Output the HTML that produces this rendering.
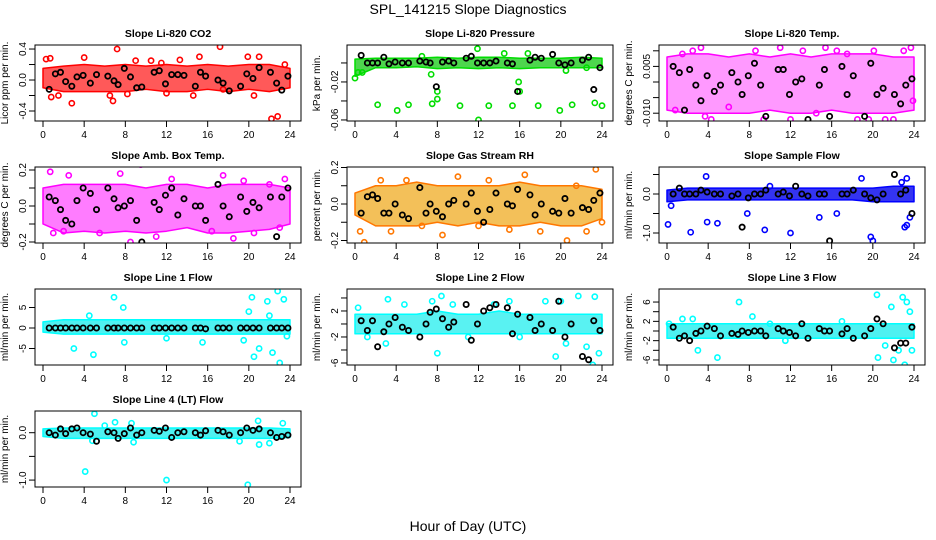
<!DOCTYPE html>
<html><head><meta charset="utf-8"><style>
html,body{margin:0;padding:0;background:#fff;}
svg{display:block;font-family:"Liberation Sans",sans-serif;}
</style></head><body>
<svg id="chart" width="936" height="540" viewBox="0 0 936 540" xmlns="http://www.w3.org/2000/svg">
<text x="468" y="14" text-anchor="middle" font-size="14">SPL_141215  Slope Diagnostics</text>
<text x="468" y="531" text-anchor="middle" font-size="14">Hour of Day (UTC)</text>
</svg>
<script>
const xTicks=[0,4,8,12,16,20,24];
const bandHours=[0,2,4,6,8,10,12,14,16,18,20,22,24];
const blackHours=[0.6,1.2,1.7,2.2,2.8,3.3,3.9,4.6,5.2,6.3,6.9,7.3,7.9,8.5,9.1,9.6,10.8,11.3,11.9,12.5,13.1,13.7,14.8,15.3,15.8,17.0,17.5,18.1,19.2,19.8,20.4,21.0,22.1,22.7,23.2,23.8];

const co2Hi=[0.15,0.18,0.2,0.18,0.2,0.18,0.2,0.18,0.2,0.18,0.2,0.2,0.15];
const co2Lo=[-0.1,-0.15,-0.15,-0.15,-0.15,-0.12,-0.15,-0.15,-0.12,-0.15,-0.12,-0.15,-0.1];
const co2Hours=[0.3,0.8,0.7,1.5,2.8,4.0,6.5,6.8,7.2,8.2,10.5,11.5,13.3,14.6,15.2,17.2,17.5,19.9,20.5,21.0,22.2,22.8,23.5,12.0,9.0];
const co2Vals=[0.27,-0.22,0.28,-0.2,-0.3,0.29,-0.2,-0.27,0.4,-0.18,0.25,0.22,0.26,-0.2,0.3,0.43,-0.12,0.3,-0.2,0.3,-0.5,-0.47,0.2,-0.17,0.25];
const co2Black=[-0.12,0.08,0.1,-0.02,-0.08,0.04,0.06,-0.04,0.07,0.05,-0.01,-0.06,0.15,0.04,-0.1,-0.09,0.1,0.12,-0.05,0.07,0.07,0.06,-0.08,0.1,0.05,0.0,-0.04,-0.14,-0.08,0.08,0.02,0.16,0.1,-0.04,-0.13,0.05];

const presHi=[0.004,0.005,0.005,0.005,0.006,0.005,0.006,0.006,0.005,0.005,0.005,0.006,0.005];
const presLo=[-0.014,-0.005,-0.005,-0.004,-0.006,-0.005,-0.006,-0.005,-0.006,-0.005,-0.005,-0.005,-0.005];
const presHours=[0.0,0.3,0.7,2.2,4.1,5.2,7.4,7.5,8.0,8.0,10.2,12.0,11.9,13.0,15.3,15.9,16.0,17.8,19.9,21.1,23.3,24.0,22.5,20.5,16.8,14.5,6.5];
const presVals=[-0.016,-0.01,-0.01,-0.044,-0.05,-0.044,-0.012,-0.043,-0.038,-0.03,-0.045,-0.06,0.015,-0.045,-0.045,-0.02,-0.03,-0.045,-0.05,-0.044,-0.042,-0.045,-0.005,-0.008,0.01,0.01,0.007];
const presBlack=[0.008,0.0,0.0,0.0,0.006,-0.001,0.001,0.0,0.0,0.002,0.001,0.0,-0.025,0.001,0.002,0.0,0.005,0.007,0.0,0.0,0.0,0.002,0.0,-0.001,-0.03,0.003,0.006,0.005,0.009,0.0,-0.002,0.0,0.003,0.006,-0.028,-0.005];

const tempHi=[0.008,0.009,0.009,0.008,0.009,0.008,0.009,0.008,0.009,0.009,0.009,0.008,0.008];
const tempLo=[-0.009,-0.01,-0.01,-0.01,-0.01,-0.009,-0.01,-0.01,-0.009,-0.01,-0.01,-0.01,-0.009];
const tempHours=[0.8,1.5,2.5,3.3,3.7,4.3,6.0,8.6,9.4,11.0,12.0,13.2,14.5,15.4,16.5,17.5,18.5,19.6,20.1,21.2,22.0,23.0,23.7,23.9];
const tempVals=[-0.009,0.009,0.01,0.011,-0.011,-0.012,-0.008,0.01,-0.012,0.011,-0.012,0.01,-0.01,0.011,0.01,0.009,-0.012,-0.012,0.01,-0.012,-0.012,0.01,0.011,-0.006];
const tempBlack=[0.005,0.003,-0.009,0.004,-0.001,-0.006,0.002,-0.003,-0.001,0.003,0.0,-0.004,0.002,0.006,-0.001,-0.011,0.004,0.004,-0.004,0.0,0.001,-0.012,-0.001,0.004,-0.011,0.005,-0.004,0.002,-0.011,0.006,-0.004,-0.002,-0.004,-0.007,-0.001,0.001];

const ambHi=[0.1,0.12,0.12,0.12,0.12,0.1,0.12,0.12,0.1,0.12,0.12,0.12,0.1];
const ambLo=[-0.1,-0.15,-0.14,-0.15,-0.14,-0.15,-0.14,-0.12,-0.15,-0.15,-0.14,-0.13,-0.1];
const ambHours=[0.7,1.0,2.0,2.5,3.1,4.5,5.5,7.5,8.5,9.5,11.0,12.5,14.6,16.4,17.5,18.5,19.5,20.5,22.0,23.5,23.0];
const ambVals=[0.19,-0.15,-0.14,0.17,-0.25,0.24,-0.15,0.18,-0.2,0.23,-0.17,0.15,0.24,-0.14,0.17,-0.18,0.14,-0.15,0.12,0.15,-0.12];
const ambBlack=[0.05,0.03,-0.02,-0.08,-0.1,0.03,0.1,0.07,-0.02,0.1,0.04,-0.01,0.0,0.03,-0.08,-0.2,0.02,-0.02,0.06,0.1,-0.05,0.04,0.0,0.0,-0.08,0.12,0.0,-0.06,0.05,-0.03,0.02,-0.01,0.05,-0.17,0.05,0.1];

const rhHi=[0.06,0.1,0.1,0.12,0.1,0.1,0.1,0.1,0.12,0.1,0.1,0.1,0.08];
const rhLo=[-0.06,-0.12,-0.12,-0.12,-0.1,-0.12,-0.1,-0.12,-0.12,-0.1,-0.12,-0.12,-0.08];
const rhHours=[0.5,0.9,2.5,3.5,5.0,6.5,8.5,10.0,12.0,13.0,15.0,16.5,18.0,20.6,21.5,22.5,23.4,24.0];
const rhVals=[-0.15,-0.21,0.13,-0.15,0.13,-0.12,-0.17,0.15,-0.12,0.13,-0.14,0.16,-0.15,-0.2,0.1,-0.15,0.19,-0.1];
const rhBlack=[-0.05,0.04,0.05,0.03,-0.05,-0.05,0.0,-0.06,-0.08,0.09,-0.05,0.0,-0.04,-0.07,0.0,0.02,0.0,0.06,-0.04,-0.1,-0.03,0.06,0.0,-0.01,0.08,0.05,-0.06,0.0,-0.04,-0.05,0.03,-0.05,-0.02,-0.03,0.02,0.06];

const sfHi=[0.1,0.15,0.15,0.15,0.15,0.15,0.15,0.15,0.15,0.15,0.15,0.2,0.2];
const sfLo=[-0.2,-0.15,-0.15,-0.15,-0.15,-0.15,-0.15,-0.15,-0.15,-0.15,-0.2,-0.2,-0.2];
const sfHours=[0.1,0.4,2.3,3.9,4.9,7.8,9.5,12.0,14.8,16.5,19.8,20.0,23.1,23.3,23.6,22.8,23.3,3.8,10.0,18.9];
const sfVals=[-0.78,-0.3,-0.98,-0.72,-0.75,-0.5,-0.92,-1.0,-0.6,-0.5,-1.1,-1.2,-0.85,-0.8,-0.6,0.3,0.4,0.45,0.2,0.4];
const sfBlack=[0.0,0.15,0.0,0.0,0.0,0.1,0.05,0.0,0.0,-0.05,0.0,-0.85,-0.1,0.0,0.0,0.1,0.0,0.05,-0.05,0.2,0.0,-0.05,0.0,0.0,-1.2,0.0,0.0,0.1,0.0,-0.1,-0.15,0.0,0.5,0.0,0.1,-0.5];

const l1Hi=[1.5,2,2,2,2,2,2,2,2,2,2,2,2];
const l1Lo=[-1,-1.5,-1.5,-1.5,-1.5,-1.5,-1.5,-1.5,-1.5,-1.5,-1.5,-1.5,-1.5];
const l1Hours=[3.0,4.9,6.9,7.8,7.9,4.5,20.3,20.5,20.0,21.0,21.8,22.3,22.8,23.0,23.4,23.7,22.0,19.5,15.5,12.0];
const l1Vals=[-5,-6.5,7.5,5,-3.5,3,7.5,-7,4,-5,6.5,-6,9,-8.5,7,-2,3,-3,-3.5,-2.5];
const l1Black=[0,0,0,0,0,0,0,0,0,0,0,0,0,0,0,0,0,0,0,0,0,0,0,0,-0.2,0,0,0,0,0,0,0,0,0,0,0];

const l2Hi=[1.5,1.5,1.5,1.5,2,1.5,1.5,2,1.5,1.5,1.5,1.5,1.5];
const l2Lo=[-1.5,-1.5,-1.5,-1.5,-1.5,-1.5,-1.5,-1.5,-1.5,-1.5,-1.5,-1.5,-1.5];
const l2Hours=[0.3,1.2,3.0,3.2,4.8,7.5,8.0,8.4,9.5,11.0,13.5,15.0,16.0,18.5,19.5,20.5,21.7,22.5,23.1,23.3,23.7,20.0];
const l2Vals=[2.5,-2,-3,3.8,3,3.5,-4.5,4.3,3,-2,3,3.5,-2,3.5,-5,-3,4.3,-3.5,-6.3,4.2,-4.5,3.5];
const l2Black=[0.5,-1,0.5,-3.5,-1.2,0,1,-0.5,-1,-2,0,1.8,2.3,0.8,-0.5,0.3,3,-2.5,0,2,2.5,3,2.5,-1.5,1.5,1,-1,0,-1,3.5,-2,0,-5,-5.5,0.5,-1];

const l3Hi=[1.5,1.5,1.5,1.5,1.5,1.5,1.5,1.5,1.5,1.5,1.5,1.5,1.5];
const l3Lo=[-1.5,-1.5,-1.5,-1.5,-1.5,-1.5,-1.5,-1.5,-1.5,-1.5,-1.5,-1.5,-1.5];
const l3Hours=[0.2,1.5,2.5,3.0,4.9,7.0,8.3,10.0,11.5,17.0,20.4,20.5,21.2,21.8,22.0,22.5,22.9,23.1,23.3,23.6,23.8];
const l3Vals=[1.5,2.5,2.5,-4,-5.5,6,3,1.5,-2,2,7.5,-5.5,-3,5,-6,-4,7,-7,6,4,-4];
const l3Black=[0.8,-1.5,-1,-2,-0.5,0,1,0.5,-1,-0.5,-0.7,0,-0.3,0,0,-1,0.5,0,-0.3,-1,1.5,-1.5,0.5,0,0,-0.6,0.5,-1.5,-1,0.5,2.5,1.5,-3.5,-2.5,-2.5,0.8];

const l4Hi=[0.08,0.1,0.1,0.1,0.1,0.1,0.1,0.1,0.1,0.1,0.1,0.1,0.08];
const l4Lo=[-0.08,-0.12,-0.12,-0.12,-0.12,-0.12,-0.12,-0.12,-0.12,-0.12,-0.12,-0.12,-0.1];
const l4Hours=[5.0,4.1,12.0,19.9,7.0,8.6,8.8,19.1,20.9,23.3,21.0,22.0,6.0,4.8];
const l4Vals=[0.4,-0.82,-1.0,-1.1,0.22,0.2,-0.2,-0.18,0.25,0.2,-0.25,-0.22,0.15,-0.17];
const l4Black=[0,-0.05,0.08,-0.02,0.08,0.1,0.0,-0.03,-0.18,0.02,0.0,-0.12,-0.02,0.1,-0.05,0.0,0.05,0.03,0.1,-0.1,0.0,0.02,0.0,-0.05,0.04,0.05,0.02,-0.05,0.0,0.1,0.05,0.08,0.0,-0.1,-0.08,-0.05];

const panels=[
 {key:'co2',title:'Slope Li-820 CO2',ylab:'Licor ppm per min.',col:0,row:0,ymin:-0.529,ymax:0.452,ticks:[-0.4,-0.2,0,0.2,0.4],labels:{'-0.4':'-0.4','0':'0.0','0.4':'0.4'},color:'#ff0000',band:'#ff3030',op:0.8,hi:co2Hi,lo:co2Lo,hrs:co2Hours,vals:co2Vals,blk:co2Black},
 {key:'pressure',title:'Slope Li-820 Pressure',ylab:'kPa per min.',col:1,row:0,ymin:-0.0611,ymax:0.0189,ticks:[-0.06,-0.04,-0.02,0],labels:{'-0.06':'-0.06','-0.02':'-0.02'},color:'#00dd00',band:'#22cc22',op:0.8,hi:presHi,lo:presLo,hrs:presHours,vals:presVals,blk:presBlack},
 {key:'temp',title:'Slope Li-820 Temp.',ylab:'degrees C per min.',col:2,row:0,ymin:-0.0125,ymax:0.01186,ticks:[-0.01,-0.005,0,0.005,0.01],labels:{'-0.01':'-0.010','0.005':'0.005'},color:'#ff00ff',band:'#ff55ff',op:0.6,hi:tempHi,lo:tempLo,hrs:tempHours,vals:tempVals,blk:tempBlack},
 {key:'ambbox',title:'Slope Amb. Box Temp.',ylab:'degrees C per min.',col:0,row:1,ymin:-0.2056,ymax:0.2167,ticks:[-0.2,-0.1,0,0.1,0.2],labels:{'-0.2':'-0.2','0':'0.0','0.2':'0.2'},color:'#ff00ff',band:'#ff44ff',op:0.7,hi:ambHi,lo:ambLo,hrs:ambHours,vals:ambVals,blk:ambBlack},
 {key:'rh',title:'Slope Gas Stream RH',ylab:'percent per min.',col:1,row:1,ymin:-0.2137,ymax:0.2027,ticks:[-0.2,-0.1,0,0.1,0.2],labels:{'-0.2':'-0.2','0':'0.0','0.2':'0.2'},color:'#ff7700',band:'#f0b030',op:0.8,hi:rhHi,lo:rhLo,hrs:rhHours,vals:rhVals,blk:rhBlack},
 {key:'sampleflow',title:'Slope Sample Flow',ylab:'ml/min per min.',col:2,row:1,ymin:-1.256,ymax:0.692,ticks:[-1,-0.5,0,0.5],labels:{'-1':'-1.0','0':'0.0'},color:'#0000ff',band:'#1010ee',op:0.85,hi:sfHi,lo:sfLo,hrs:sfHours,vals:sfVals,blk:sfBlack},
 {key:'line1',title:'Slope Line 1 Flow',ylab:'ml/min per min.',col:0,row:2,ymin:-9.02,ymax:9.51,ticks:[-5,0,5],labels:{'-5':'-5','0':'0','5':'5'},color:'#00ffff',band:'#22eeee',op:0.8,hi:l1Hi,lo:l1Lo,hrs:l1Hours,vals:l1Vals,blk:l1Black},
 {key:'line2',title:'Slope Line 2 Flow',ylab:'ml/min per min.',col:1,row:2,ymin:-6.31,ymax:5.38,ticks:[-6,-4,-2,0,2,4],labels:{'-6':'-6','-2':'-2','2':'2'},color:'#00ffff',band:'#22eeee',op:0.75,hi:l2Hi,lo:l2Lo,hrs:l2Hours,vals:l2Vals,blk:l2Black},
 {key:'line3',title:'Slope Line 3 Flow',ylab:'ml/min per min.',col:2,row:2,ymin:-7.04,ymax:8.7,ticks:[-6,-4,-2,0,2,4,6],labels:{'-6':'-6','-2':'-2','2':'2','6':'6'},color:'#00ffff',band:'#22eeee',op:0.8,hi:l3Hi,lo:l3Lo,hrs:l3Hours,vals:l3Vals,blk:l3Black},
 {key:'line4',title:'Slope Line 4 (LT) Flow',ylab:'ml/min per min.',col:0,row:3,ymin:-1.146,ymax:0.458,ticks:[-1,-0.5,0],labels:{'-1':'-1.0','0':'0.0'},color:'#00ffff',band:'#22eeee',op:0.8,hi:l4Hi,lo:l4Lo,hrs:l4Hours,vals:l4Vals,blk:l4Black}
];

const NS='http://www.w3.org/2000/svg';
const svg=document.getElementById('chart');
function mk(tag,attrs,parent){const e=document.createElementNS(NS,tag);for(const k in attrs)e.setAttribute(k,attrs[k]);parent.appendChild(e);return e;}

panels.forEach(p=>{
  const L=35+p.col*312, T=45+p.row*122, W=266, H=76;
  const xs=h=>L+8+h*(247/24);
  const ys=v=>T+H-(v-p.ymin)/(p.ymax-p.ymin)*H;
  const g=mk('g',{},svg);
  
  
  const cp=mk('clipPath',{id:'clip-'+p.key},g);
  mk('rect',{x:L,y:T,width:W,height:H},cp);
  const t=mk('text',{x:L+W/2,y:T-8,'text-anchor':'middle','font-size':'10.5','font-weight':'bold'},g);
  
  
  t.textContent=p.title;
  const yl=mk('text',{transform:'translate('+(L-27)+','+(T+H/2)+') rotate(-90)','text-anchor':'middle','font-size':'10'},g);
  
  
  yl.textContent=p.ylab;
  const data=mk('g',{'clip-path':'url(#clip-'+p.key+')'},g);
  
  
  let pts=bandHours.map((h,i)=>xs(h)+','+ys(p.hi[i]));
  for(let i=bandHours.length-1;i>=0;i--)pts.push(xs(bandHours[i])+','+ys(p.lo[i]));
  const band=mk('polygon',{points:pts.join(' '),fill:p.band,'fill-opacity':p.op,stroke:p.color,'stroke-width':'1.5','stroke-linejoin':'round'},data);
  
  
  p.hrs.forEach((h,i)=>{
    const c=mk('circle',{cx:xs(h),cy:ys(p.vals[i]),r:2.6,fill:'none',stroke:p.color,'stroke-width':1.6},data);
    
    
  });
  blackHours.forEach((h,i)=>{
    const c=mk('circle',{cx:xs(h),cy:ys(p.blk[i]),r:2.6,fill:'none',stroke:'#000','stroke-width':1.8},data);
    
    
  });
  const box=mk('rect',{x:L,y:T,width:W,height:H,fill:'none',stroke:'#000','stroke-width':1},g);
  
  
  xTicks.forEach(h=>{
    const ln=mk('line',{x1:xs(h),x2:xs(h),y1:T+H,y2:T+H+6,stroke:'#000'},g);
    
    
    const tl=mk('text',{x:xs(h),y:T+H+17,'text-anchor':'middle','font-size':'10'},g);
    
    
    tl.textContent=String(h);
  });
  p.ticks.forEach(v=>{
    const y=ys(v);
    const ln=mk('line',{x1:L-6,x2:L,y1:y,y2:y,stroke:'#000'},g);
    
    
    const lab=p.labels[String(v)];
    if(lab!==undefined){
      const tl=mk('text',{transform:'translate('+(L-9)+','+y+') rotate(-90)','text-anchor':'middle','font-size':'10'},g);
      
      
      tl.textContent=lab;
    }
  });
});
</script>
</body></html>
